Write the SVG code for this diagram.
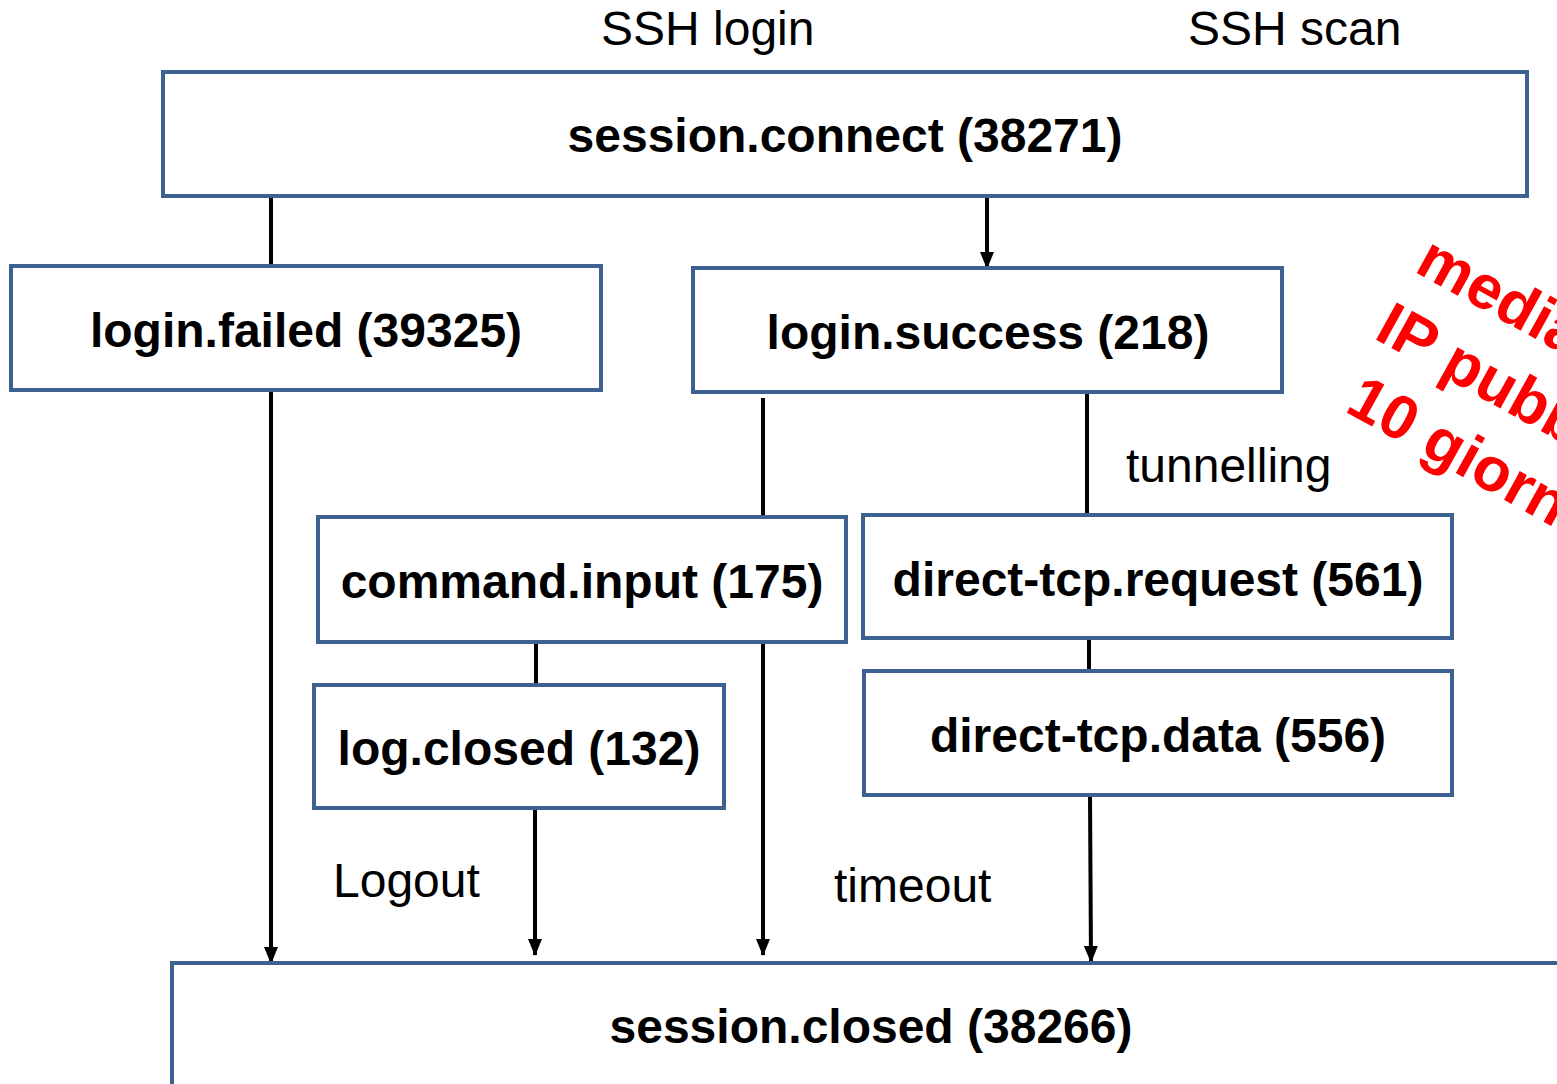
<svg xmlns="http://www.w3.org/2000/svg" width="1557" height="1084" viewBox="0 0 1557 1084">
<style>
.box{fill:#fff;stroke:#3d6191;stroke-width:4}
.t{font-family:"Liberation Sans",Arial,sans-serif;font-weight:bold;font-size:48px;fill:#000;text-anchor:middle}
.l{font-family:"Liberation Sans",Arial,sans-serif;font-size:48px;fill:#000}
.c{stroke:#000;stroke-width:4;fill:none}
.r{font-family:"Liberation Sans",Arial,sans-serif;font-weight:bold;font-size:62px;fill:#ff0000}
</style>
<defs>
<marker id="a" markerUnits="userSpaceOnUse" markerWidth="17" markerHeight="14" refX="16" refY="7" orient="auto" viewBox="0 0 17 14">
<path d="M0,0 L17,7 L0,14 Z" fill="#000"/>
</marker>
</defs>
<rect width="1557" height="1084" fill="#fff"/>
<text class="l" x="601" y="45">SSH login</text>
<text class="l" x="1188" y="45">SSH scan</text>
<g id="connectors">
<line class="c" x1="271" y1="196" x2="271" y2="266"/>
<line class="c" x1="271" y1="390" x2="271" y2="963" marker-end="url(#a)"/>
<line class="c" x1="987" y1="196" x2="987" y2="268" marker-end="url(#a)"/>
<line class="c" x1="763" y1="398" x2="763" y2="517"/>
<line class="c" x1="763" y1="642" x2="763" y2="955" marker-end="url(#a)"/>
<line class="c" x1="1087" y1="392" x2="1087" y2="515"/>
<line class="c" x1="1089" y1="638" x2="1089" y2="671"/>
<line class="c" x1="1090" y1="795" x2="1091" y2="962" marker-end="url(#a)"/>
<line class="c" x1="536" y1="642" x2="536" y2="685"/>
<line class="c" x1="535" y1="808" x2="535" y2="955" marker-end="url(#a)"/>
</g>
<g id="session-connect"><rect class="box" x="163" y="72" width="1364" height="124"/><text class="t" x="845" y="152">session.connect (38271)</text></g>
<g id="login-failed"><rect class="box" x="11" y="266" width="590" height="124"/><text class="t" x="306" y="347">login.failed (39325)</text></g>
<g id="login-success"><rect class="box" x="693" y="268" width="589" height="124"/><text class="t" x="988" y="349">login.success (218)</text></g>
<g id="command-input"><rect class="box" x="318" y="517" width="528" height="125"/><text class="t" x="582" y="598">command.input (175)</text></g>
<g id="direct-tcp-request"><rect class="box" x="863" y="515" width="589" height="123"/><text class="t" x="1158" y="596">direct-tcp.request (561)</text></g>
<g id="log-closed"><rect class="box" x="314" y="685" width="410" height="123"/><text class="t" x="519" y="765">log.closed (132)</text></g>
<g id="direct-tcp-data"><rect class="box" x="864" y="671" width="588" height="124"/><text class="t" x="1158" y="752">direct-tcp.data (556)</text></g>
<g id="session-closed"><rect class="box" x="172" y="963" width="1420" height="160"/><text class="t" x="871" y="1043">session.closed (38266)</text></g>
<text class="l" x="1126" y="482">tunnelling</text>
<text class="l" x="333" y="897">Logout</text>
<text class="l" x="834" y="902">timeout</text>
<g transform="translate(1413 271) rotate(29)">
<text class="r" x="0" y="0">media</text>
<text class="r" x="-3" y="78">IP pubblici</text>
<text class="r" x="7" y="156">10 giorni</text>
</g>
</svg>
